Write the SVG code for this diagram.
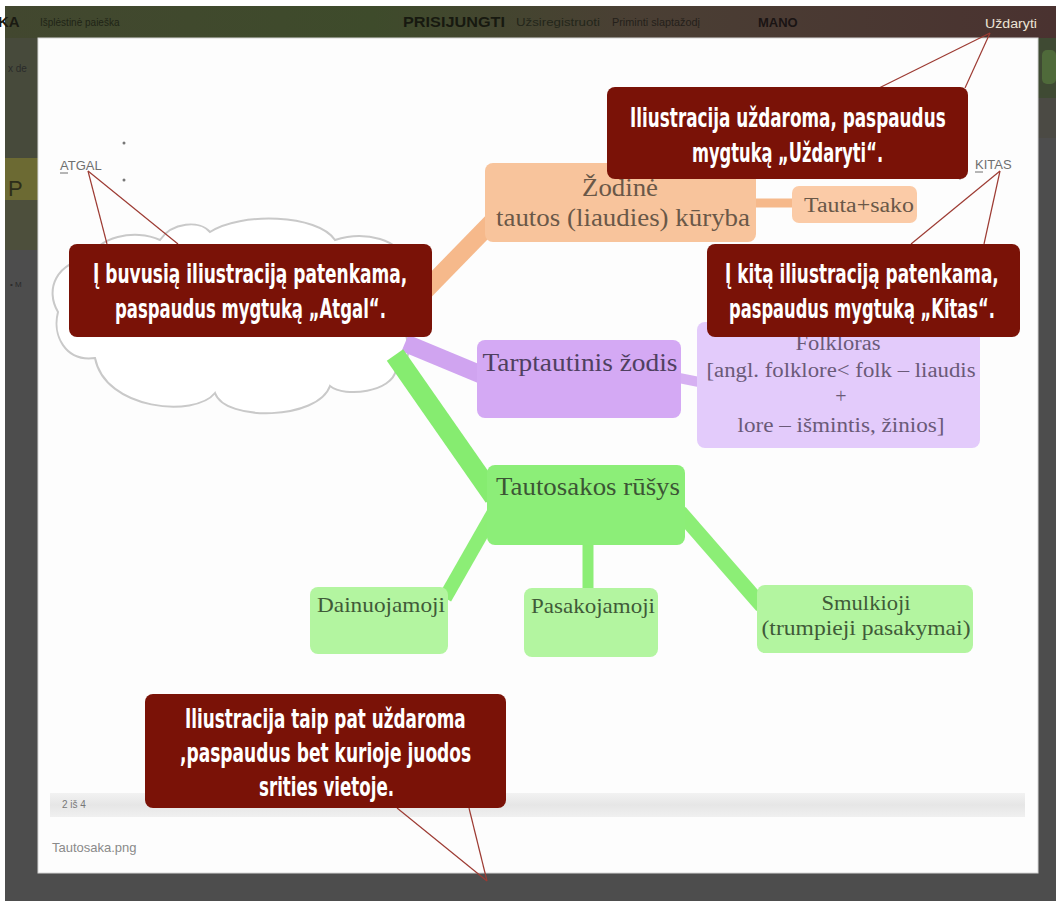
<svg xmlns="http://www.w3.org/2000/svg" width="1056" height="901" viewBox="0 0 1056 901">
<defs>
<linearGradient id="topbar" x1="0" y1="0" x2="1" y2="0">
<stop offset="0" stop-color="#42472f"/>
<stop offset="0.35" stop-color="#3e4b2b"/>
<stop offset="0.6" stop-color="#4a3f34"/>
<stop offset="1" stop-color="#4a3230"/>
</linearGradient>
<linearGradient id="band" x1="0" y1="0" x2="0" y2="1">
<stop offset="0" stop-color="#f2f2f2"/>
<stop offset="0.5" stop-color="#e6e6e6"/>
<stop offset="1" stop-color="#f0f0f0"/>
</linearGradient>
</defs>
<style>
.note{fill:#7a1207}
.notetxt{font-family:"DejaVu Sans Condensed","DejaVu Sans",sans-serif;font-weight:bold;font-size:27px;fill:#ffffff}
.call{stroke:#9d3b33;stroke-width:1.2;fill:none}
.serif{font-family:"Liberation Serif","DejaVu Serif",serif}
.bar{fill:none;stroke-linecap:butt}
.topt{font-family:"Liberation Sans",Arial,sans-serif}
</style>

<g id="background">
<rect x="0" y="0" width="1056" height="901" fill="#ffffff"/>
<rect x="5" y="6" width="1051" height="895" fill="#4d4d4d"/>
<rect x="5" y="38" width="33" height="120" fill="#474a3b"/>
<rect x="5" y="158" width="33" height="42" fill="#6c6a33"/>
<rect x="5" y="200" width="33" height="50" fill="#4d4f3c"/>
<text x="8" y="196" class="topt" font-size="22" fill="#2e2e1a">P</text>
<text x="8" y="72" class="topt" font-size="10" fill="#2a2a2a">x de</text>
<text x="10" y="287" class="topt" font-size="8" fill="#2a2a2a">• M</text>
<rect x="1038" y="38" width="18" height="60" fill="#3f4a33"/>
<rect x="1042" y="50" width="14" height="34" rx="5" fill="#4f6a3a"/>
<rect x="1038" y="98" width="18" height="40" fill="#4b4a44"/>
<rect x="5" y="6" width="1051" height="32" fill="url(#topbar)"/>
<text x="-2" y="27" class="topt" font-size="15" font-weight="bold" fill="#1a1a12">KA</text>
<text x="40" y="26" class="topt" font-size="10" fill="#1f2416">Išplėstinė paieška</text>
<text x="403" y="27" class="topt" font-size="14" font-weight="bold" fill="#171910" textLength="102" lengthAdjust="spacingAndGlyphs">PRISIJUNGTI</text>
<text x="516" y="26" class="topt" font-size="10" fill="#23261a" textLength="84" lengthAdjust="spacingAndGlyphs">Užsiregistruoti</text>
<text x="612" y="26" class="topt" font-size="10" fill="#241f1a" textLength="88" lengthAdjust="spacingAndGlyphs">Priminti slaptažodį</text>
<text x="758" y="27" class="topt" font-size="13" font-weight="bold" fill="#1a1414">MANO</text>
<text x="985" y="28" class="topt" font-size="12" fill="#ece4d6" textLength="52" lengthAdjust="spacingAndGlyphs">Uždaryti</text>
</g>

<g id="lightbox">
<rect x="38" y="38" width="1000" height="835" fill="#fdfdfd" stroke="#d6d6d6" stroke-width="1"/>
<rect x="50" y="793" width="975" height="24" fill="url(#band)"/>
<text x="62" y="808" class="topt" font-size="10" fill="#777777">2 iš 4</text>
<text x="52" y="852" class="topt" font-size="13" fill="#8a8a8a">Tautosaka.png</text>
<text x="60" y="170" class="topt" font-size="13" fill="#6f6f6f">ATGAL</text>
<line x1="60" y1="173" x2="68" y2="173" stroke="#6f6f6f" stroke-width="1"/>
<circle cx="124" cy="143" r="1.5" fill="#777"/>
<circle cx="124" cy="180" r="1.5" fill="#777"/>
<text x="975" y="169" class="topt" font-size="13" fill="#6f6f6f">KITAS</text>
<line x1="975" y1="172" x2="983" y2="172" stroke="#6f6f6f" stroke-width="1"/>
<circle cx="960" cy="178" r="1.5" fill="#777"/>
</g>

<g id="cloud">
<path d="M 95,358 C 65,362 52,335 58,312 C 45,290 55,262 92,258 C 95,238 135,228 160,240 C 172,222 200,220 210,232 C 240,212 318,214 335,240 C 365,230 402,240 404,262 C 428,278 425,318 406,335 C 412,355 405,370 396,370 C 392,392 345,398 330,386 C 318,420 225,422 215,393 C 195,418 105,410 95,358 Z" fill="#ffffff" stroke="#c9c9c9" stroke-width="2"/>
</g>

<g id="connectors">
<line class="bar" x1="416" y1="300" x2="492" y2="222" stroke="#f6b98b" stroke-width="18"/>
<line class="bar" x1="754" y1="203" x2="796" y2="203" stroke="#f6b98b" stroke-width="9"/>
<line class="bar" x1="405" y1="343" x2="482" y2="375" stroke="#d0a4f0" stroke-width="18"/>
<line class="bar" x1="679" y1="378" x2="699" y2="382" stroke="#d6b0f2" stroke-width="10"/>
<line class="bar" x1="395" y1="355" x2="494" y2="497" stroke="#86ec70" stroke-width="20"/>
<line class="bar" x1="494" y1="512" x2="445" y2="598" stroke="#8cee76" stroke-width="14"/>
<line class="bar" x1="588" y1="540" x2="588" y2="591" stroke="#8cee76" stroke-width="11"/>
<line class="bar" x1="680" y1="512" x2="762" y2="606" stroke="#8cee76" stroke-width="15"/>
<line class="call" x1="990" y1="33" x2="879" y2="88"/>
<line class="call" x1="990" y1="33" x2="965" y2="88"/>
<line class="call" x1="1000" y1="171" x2="911" y2="244"/>
<line class="call" x1="1000" y1="171" x2="984" y2="244"/>
<line class="call" x1="88" y1="171" x2="107" y2="244"/>
<line class="call" x1="88" y1="171" x2="178" y2="244"/>
<line class="call" x1="397" y1="808" x2="487" y2="881"/>
<line class="call" x1="469" y1="808" x2="487" y2="881"/>
</g>

<g id="node-zodine">
<rect x="485" y="163" width="271" height="79" rx="8" fill="#f8c49c"/>
<text x="620" y="196" class="serif" font-size="26" fill="#6a5848" text-anchor="middle" textLength="76" lengthAdjust="spacingAndGlyphs">Žodinė</text>
<text x="623" y="226" class="serif" font-size="26" fill="#6a5848" text-anchor="middle" textLength="254" lengthAdjust="spacingAndGlyphs">tautos (liaudies) kūryba</text>
</g>
<g id="node-tautasako">
<rect x="792" y="186" width="125" height="37" rx="7" fill="#fbcba7"/>
<text x="859" y="212" class="serif" font-size="20" fill="#6a5848" text-anchor="middle" textLength="110" lengthAdjust="spacingAndGlyphs">Tauta+sako</text>
</g>
<g id="node-tarptautinis">
<rect x="477" y="340" width="204" height="78" rx="8" fill="#d4a9f4"/>
<text x="580" y="371" class="serif" font-size="26" fill="#4f4060" text-anchor="middle" textLength="195" lengthAdjust="spacingAndGlyphs">Tarptautinis žodis</text>
</g>
<g id="node-folkloras">
<rect x="697" y="322" width="283" height="126" rx="8" fill="#e3cbfb"/>
<text x="838" y="350" class="serif" font-size="20" fill="#6a5a78" text-anchor="middle" textLength="85" lengthAdjust="spacingAndGlyphs">Folkloras</text>
<text x="841" y="377" class="serif" font-size="20" fill="#6a5a78" text-anchor="middle" textLength="269" lengthAdjust="spacingAndGlyphs">[angl. folklore&lt; folk – liaudis</text>
<text x="841" y="403" class="serif" font-size="20" fill="#6a5a78" text-anchor="middle">+</text>
<text x="841" y="432" class="serif" font-size="20" fill="#6a5a78" text-anchor="middle" textLength="207" lengthAdjust="spacingAndGlyphs">lore – išmintis, žinios]</text>
</g>
<g id="node-tautosakos">
<rect x="487" y="465" width="198" height="80" rx="8" fill="#8cee78"/>
<text x="588" y="495" class="serif" font-size="26" fill="#3c5535" text-anchor="middle" textLength="184" lengthAdjust="spacingAndGlyphs">Tautosakos rūšys</text>
</g>
<g id="node-dainuojamoji">
<rect x="310" y="587" width="138" height="67" rx="8" fill="#b3f5a0"/>
<text x="381" y="612" class="serif" font-size="21" fill="#405a38" text-anchor="middle" textLength="128" lengthAdjust="spacingAndGlyphs">Dainuojamoji</text>
</g>
<g id="node-pasakojamoji">
<rect x="524" y="588" width="134" height="69" rx="8" fill="#b3f5a0"/>
<text x="593" y="613" class="serif" font-size="21" fill="#405a38" text-anchor="middle" textLength="124" lengthAdjust="spacingAndGlyphs">Pasakojamoji</text>
</g>
<g id="node-smulkioji">
<rect x="757" y="585" width="216" height="68" rx="8" fill="#b3f5a0"/>
<text x="866" y="610" class="serif" font-size="21" fill="#405a38" text-anchor="middle" textLength="89" lengthAdjust="spacingAndGlyphs">Smulkioji</text>
<text x="866" y="635" class="serif" font-size="21" fill="#405a38" text-anchor="middle" textLength="209" lengthAdjust="spacingAndGlyphs">(trumpieji pasakymai)</text>
</g>

<g id="note-uzdaryti">
<rect class="note" x="607" y="87" width="361" height="92" rx="8"/>
<text class="notetxt" transform="translate(630,127) scale(0.7,1)" x="0" y="0" textLength="451" lengthAdjust="spacingAndGlyphs">Iliustracija uždaroma, paspaudus</text>
<text class="notetxt" transform="translate(692,162) scale(0.7,1)" x="0" y="0" textLength="273" lengthAdjust="spacingAndGlyphs">mygtuką „Uždaryti“.</text>
</g>
<g id="note-atgal">
<rect class="note" x="69" y="244" width="363" height="93" rx="8"/>
<text class="notetxt" transform="translate(93,283) scale(0.7,1)" x="0" y="0" textLength="449" lengthAdjust="spacingAndGlyphs">Į buvusią iliustraciją patenkama,</text>
<text class="notetxt" transform="translate(115,318) scale(0.7,1)" x="0" y="0" textLength="387" lengthAdjust="spacingAndGlyphs">paspaudus mygtuką „Atgal“.</text>
</g>
<g id="note-kitas">
<rect class="note" x="707" y="244" width="313" height="93" rx="8"/>
<text class="notetxt" transform="translate(725,283) scale(0.7,1)" x="0" y="0" textLength="391" lengthAdjust="spacingAndGlyphs">Į kitą iliustraciją patenkama,</text>
<text class="notetxt" transform="translate(729,318) scale(0.7,1)" x="0" y="0" textLength="380" lengthAdjust="spacingAndGlyphs">paspaudus mygtuką „Kitas“.</text>
</g>
<g id="note-bottom">
<rect class="note" x="145" y="694" width="361" height="114" rx="8"/>
<text class="notetxt" transform="translate(185,728) scale(0.7,1)" x="0" y="0" textLength="401" lengthAdjust="spacingAndGlyphs">Iliustracija taip pat uždaroma</text>
<text class="notetxt" transform="translate(180,762) scale(0.7,1)" x="0" y="0" textLength="416" lengthAdjust="spacingAndGlyphs">,paspaudus bet kurioje juodos</text>
<text class="notetxt" transform="translate(259,796) scale(0.7,1)" x="0" y="0" textLength="193" lengthAdjust="spacingAndGlyphs">srities vietoje.</text>
</g>
</svg>
